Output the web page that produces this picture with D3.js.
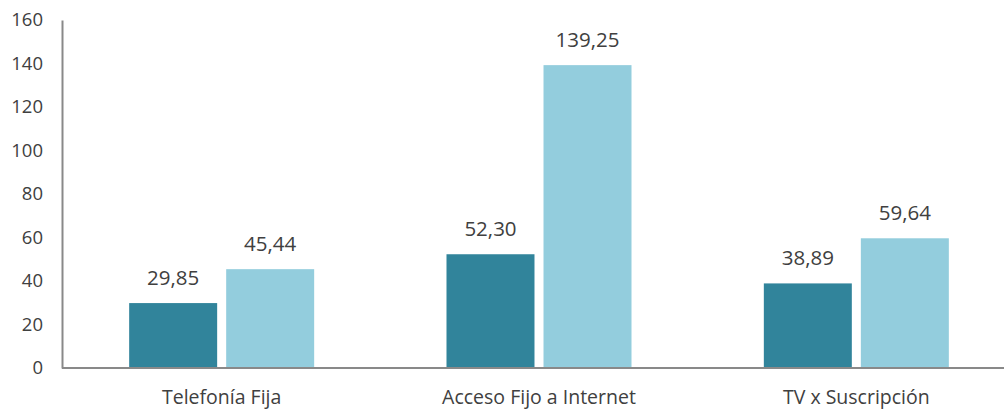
<!DOCTYPE html>
<html>
<head>
<meta charset="utf-8">
<script src="https://cdn.jsdelivr.net/npm/d3@7"></script>
<style>
  body { margin: 0; background: #fff; }
  svg text { font-family: "Open Sans", "Noto Sans", sans-serif; fill: #404040; }
</style>
</head>
<body>
<svg id="chart"></svg>
<script>
const categories = ["Telefonía Fija", "Acceso Fijo a Internet", "TV x Suscripción"];
const series = ["serie1", "serie2"];
const serie1 = [29.85, 52.30, 38.89];
const serie2 = [45.44, 139.25, 59.64];
const yTicks = [0, 20, 40, 60, 80, 100, 120, 140, 160];
const colors = ["#31849b", "#93cddd"];

function getConfig() {
    let width = 1004;
    let height = 411;
    let container = d3.select("#chart")
        .attr("width", width)
        .attr("height", height);
    return {width, height, container};
}

function drawChart() {
    const config = getConfig();
    const svg = config.container;

    const y = d3.scaleLinear().domain([0, 160]).range([368, 20]);
    const x0 = d3.scaleBand()
        .domain(categories)
        .range([63, 1015])
        .paddingInner(0.417)
        .paddingOuter(0.2085);
    const x1 = d3.scaleBand()
        .domain(series)
        .range([0, x0.bandwidth()])
        .paddingInner(0.093);

    const rows = categories.map((c, i) => ({cat: c, values: [serie1[i], serie2[i]]}));

    // bars
    const groups = svg.selectAll("g.cat")
        .data(rows)
        .enter()
        .append("g")
        .attr("class", "cat")
        .attr("transform", d => `translate(${x0(d.cat)},0)`);

    groups.selectAll("rect")
        .data(d => d.values.map((v, j) => ({key: series[j], v: v, j: j})))
        .enter()
        .append("rect")
        .attr("x", d => x1(d.key))
        .attr("y", d => y(d.v))
        .attr("width", x1.bandwidth())
        .attr("height", d => y(0) - y(d.v))
        .attr("fill", d => colors[d.j]);

    groups.selectAll("text.val")
        .data(d => d.values.map((v, j) => ({key: series[j], v: v})))
        .enter()
        .append("text")
        .attr("class", "val")
        .attr("x", d => x1(d.key) + x1.bandwidth() / 2)
        .attr("y", d => y(d.v) - 18)
        .attr("text-anchor", "middle")
        .style("font-size", "20.5px")
        .text(d => d3.format(".2f")(d.v).replace(".", ","));

    // y axis
    const yAxis = d3.axisLeft(y).tickValues(yTicks).tickSize(0).tickPadding(19);
    const gy = svg.append("g")
        .attr("transform", "translate(62,0)")
        .call(yAxis);
    gy.select(".domain").attr("stroke", "#898989").attr("stroke-width", 2);
    gy.selectAll("text").style("font-size", "18.5px").attr("fill", "#404040");

    // x axis
    const xAxis = d3.axisBottom(x0).tickSize(0).tickPadding(22);
    const gx = svg.append("g")
        .attr("transform", "translate(0,368)")
        .call(xAxis);
    gx.select(".domain").attr("stroke", "#898989").attr("stroke-width", 2)
        .attr("d", "M62,0H1004");
    gx.selectAll("text").style("font-size", "19.5px").attr("fill", "#404040");
}

drawChart();
</script>
</body>
</html>
